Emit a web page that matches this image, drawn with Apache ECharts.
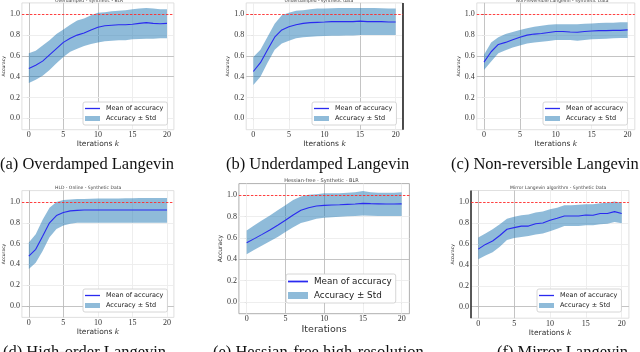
<!DOCTYPE html>
<html><head><meta charset="utf-8">
<script src="https://cdn.jsdelivr.net/npm/echarts@6/dist/echarts.min.js"></script>
<style>html,body{margin:0;padding:0;background:#fff}#c{width:640px;height:352px}</style>
</head><body><div id="c"></div>
<script>
// ---------- data ----------
const iterations = [0,1,2,3,4,5,6,7,8,9,10,11,12,13,14,15,16,17,18,19,20];
const xTickValues = [0,5,10,15,20];
const yTickValues = [0,0.2,0.4,0.6,0.8,1.0];
const targetAccuracy = 1.0;

const meanA  = [0.48,0.51,0.55,0.61,0.67,0.73,0.77,0.80,0.82,0.85,0.875,0.89,0.895,0.90,0.90,0.905,0.913,0.92,0.913,0.91,0.913];
const upperA = [0.625,0.65,0.70,0.75,0.81,0.855,0.90,0.94,0.96,0.99,1.015,1.02,1.03,1.035,1.04,1.05,1.055,1.06,1.055,1.05,1.05];
const lowerA = [0.34,0.37,0.41,0.465,0.53,0.59,0.64,0.67,0.695,0.715,0.73,0.74,0.745,0.75,0.75,0.76,0.763,0.766,0.766,0.77,0.77];

const meanB  = [0.45,0.535,0.66,0.78,0.85,0.88,0.90,0.913,0.92,0.923,0.926,0.93,0.93,0.93,0.93,0.935,0.93,0.93,0.93,0.926,0.926];
const upperB = [0.59,0.66,0.785,0.91,0.99,1.015,1.035,1.04,1.05,1.055,1.055,1.058,1.06,1.06,1.06,1.06,1.06,1.06,1.058,1.055,1.055];
const lowerB = [0.32,0.40,0.535,0.66,0.72,0.745,0.77,0.78,0.785,0.79,0.792,0.795,0.795,0.797,0.797,0.80,0.80,0.80,0.80,0.80,0.80];

const meanC  = [0.54,0.64,0.71,0.73,0.755,0.78,0.80,0.81,0.815,0.825,0.835,0.835,0.83,0.827,0.835,0.84,0.843,0.843,0.846,0.846,0.85];
const upperC = [0.61,0.73,0.78,0.81,0.83,0.85,0.865,0.88,0.89,0.90,0.905,0.905,0.905,0.905,0.91,0.913,0.916,0.92,0.92,0.923,0.923];
const lowerC = [0.465,0.545,0.625,0.655,0.68,0.70,0.72,0.73,0.737,0.743,0.753,0.753,0.753,0.747,0.753,0.76,0.763,0.766,0.77,0.773,0.773];

const meanD  = [0.48,0.545,0.67,0.80,0.87,0.90,0.915,0.92,0.923,0.923,0.923,0.923,0.923,0.923,0.923,0.923,0.923,0.923,0.923,0.923,0.923];
const upperD = [0.61,0.69,0.83,0.945,1.0,1.02,1.025,1.03,1.03,1.032,1.033,1.034,1.035,1.035,1.036,1.037,1.038,1.039,1.04,1.04,1.038];
const lowerD = [0.355,0.415,0.53,0.66,0.74,0.775,0.79,0.80,0.80,0.80,0.80,0.80,0.80,0.80,0.80,0.80,0.80,0.80,0.80,0.80,0.80];

const meanE  = [0.556,0.594,0.634,0.675,0.72,0.766,0.816,0.86,0.884,0.90,0.906,0.91,0.912,0.915,0.918,0.925,0.922,0.92,0.918,0.918,0.92];
const upperE = [0.67,0.72,0.766,0.81,0.86,0.906,0.956,0.99,1.006,1.01,1.02,1.02,1.02,1.025,1.03,1.04,1.03,1.025,1.025,1.025,1.03];
const lowerE = [0.447,0.49,0.53,0.57,0.61,0.656,0.70,0.74,0.76,0.78,0.79,0.795,0.80,0.803,0.806,0.81,0.808,0.806,0.806,0.806,0.806];

const meanF  = [0.55,0.595,0.627,0.68,0.74,0.755,0.77,0.77,0.793,0.80,0.825,0.845,0.866,0.866,0.866,0.876,0.873,0.89,0.89,0.908,0.89];
const upperF = [0.66,0.70,0.74,0.787,0.84,0.86,0.873,0.88,0.90,0.91,0.93,0.946,0.968,0.97,0.975,0.978,0.978,0.987,0.994,1.006,0.994];
const lowerF = [0.452,0.49,0.52,0.573,0.637,0.656,0.666,0.675,0.69,0.70,0.72,0.745,0.77,0.77,0.77,0.777,0.777,0.787,0.793,0.81,0.796];

const panelTitles = ['Overdamped - Synthetic - BLR','Underdamped - synthetic data','Non-reversible Langevin - Synthetic Data',
  'HLD - Online - Synthetic Data','Hessian-free - Synthetic - BLR','Mirror Langevin algorithm - Synthetic Data'];
const captions = ['(a) Overdamped Langevin','(b) Underdamped Langevin','(c) Non-reversible Langevin',
  '(d) High-order Langevin','(e) Hessian-free high-resolution','(f) Mirror Langevin'];
const xNames = ['Iterations {k|k}','Iterations {k|k}','Iterations {k|k}','Iterations {k|k}','Iterations','Iterations {k|k}'];
const yName = 'Accuracy';
const meanName = 'Mean of accuracy';
const bandName = 'Accuracy \u00b1 Std';

const panelData = [
  {mean: meanA, upper: upperA, lower: lowerA},
  {mean: meanB, upper: upperB, lower: lowerB},
  {mean: meanC, upper: upperC, lower: lowerC},
  {mean: meanD, upper: upperD, lower: lowerD},
  {mean: meanE, upper: upperE, lower: lowerE},
  {mean: meanF, upper: upperF, lower: lowerF}
];

// ---------- layout / style ----------
const layouts = [
  {left:16.1, top:2.9, width:157.8, height:126.8, border:'#d8d8d8', darkX:[0,5,10], darkY:[0.4,0.6], lg:{left:83, top:102}, fs:6.5, ifs:7.5, ygap:11, yfs:4.5, tfs:4.5},
  {left:246.2, top:2.9, width:156.6, height:126.8, border:'#d8d8d8', darkX:[15], darkY:[0.4,0.6], spineR:true, lg:{left:312, top:102}, fs:6.5, ifs:7.5, ygap:11, yfs:4.5, tfs:4.5},
  {left:476.8, top:2.9, width:158, height:126.8, border:'#d8d8d8', darkX:[0,5], darkY:[0.4,0.6], lg:{left:543, top:102}, fs:6.5, ifs:7.5, ygap:11, yfs:4.5, tfs:4.5},
  {left:16.1, top:190.6, width:157.8, height:126.8, border:'#d8d8d8', darkX:[0,5], darkY:[0], lg:{left:83, top:289}, fs:6.5, ifs:7.5, ygap:11, yfs:4.5, tfs:4.5},
  {left:238.9, top:183.6, width:170.5, height:130.1, border:'#9a9a9a', darkX:[5,10], darkY:[0.4], lg:{left:286, top:274}, fs:8.8, ifs:9.5, ygap:13, yfs:6, tfs:5},
  {left:471.1, top:190.5, width:157.8, height:127.7, border:'#d8d8d8', darkX:[0,5], darkY:[0], spineL:true, lg:{left:537, top:289}, fs:6.5, ifs:7.5, ygap:11, yfs:4.5, tfs:4.5}
];
const captionPos = [{x:0,y:156},{x:226,y:156},{x:451,y:156},{x:3,y:344},{x:213,y:344},{x:497,y:344}];

const BAND = 'rgba(31,119,180,0.5)';
const BAND_SOLID = '#8fbbd9';
const LINE = '#2a2af0';
const GRID_FAINT = '#ececec';
const GRID_DARK = '#bdbdbd';
const LINE_ICON = 'path://M0,0H40V3.5H0Z';

const grids = [], xAxes = [], yAxes = [], series = [], legends = [], graphics = [];

panelData.forEach((p, i) => {
  const L = layouts[i];
  grids.push({left:L.left, top:L.top, width:L.width, height:L.height, show:true, borderColor:L.border, borderWidth:0.8, backgroundColor:'#fff'});
  xAxes.push({
    type:'value', gridIndex:i, min:-1, max:21,
    axisLine:{show:false},
    axisTick:{show:true, length:2, customValues:xTickValues, lineStyle:{color:'#444', width:0.6}},
    axisLabel:{customValues:xTickValues, margin:1.5, fontFamily:'Liberation Serif', fontSize:8, color:'#333'},
    splitLine:{show:false},
    name:xNames[i], nameLocation:'middle', nameGap: i===4 ? 10 : 8,
    nameTextStyle:{fontFamily:'DejaVu Sans', fontSize:L.ifs, color:'#333', rich:{k:{fontFamily:'DejaVu Sans', fontStyle:'italic', fontSize:L.ifs, color:'#333'}}}
  });
  yAxes.push({
    type:'value', gridIndex:i, min:-0.11, max:1.11,
    axisLine:{show:false},
    axisTick:{show:true, length:2, customValues:yTickValues, lineStyle:{color:'#444', width:0.6}},
    axisLabel:{customValues:yTickValues, margin:2, fontFamily:'Liberation Serif', fontSize:8, color:'#333', formatter:v=>v.toFixed(1)},
    splitLine:{show:false},
    name:yName, nameLocation:'middle', nameGap:L.ygap, nameRotate:90,
    nameTextStyle:{fontFamily:'DejaVu Sans', fontSize:L.yfs, color:'#333'}
  });
  const gridLines = [];
  xTickValues.forEach(v => gridLines.push({xAxis:v, lineStyle:{color: L.darkX.includes(v)?GRID_DARK:GRID_FAINT, width:0.9, type:'solid'}}));
  yTickValues.forEach(v => { if (v !== targetAccuracy) gridLines.push({yAxis:v, lineStyle:{color: L.darkY.includes(v)?GRID_DARK:GRID_FAINT, width:0.9, type:'solid'}}); });
  if (L.spineR) gridLines.push({xAxis:21, lineStyle:{color:'#222', width:1.6, type:'solid'}});
  if (L.spineL) gridLines.push({xAxis:-1, lineStyle:{color:'#333', width:1.6, type:'solid'}});

  series.push({
    type:'custom', xAxisIndex:i, yAxisIndex:i, name:bandName,
    data: iterations.map((x, k) => [x, p.lower[k], p.upper[k]]),
    encode:{x:0, y:[1,2]},
    itemStyle:{color:BAND_SOLID}, animation:false, silent:true, clip:true, z:2,
    renderItem: (params, api) => {
      if (params.dataIndex !== 0) return null;
      const pts = [];
      for (let k = 0; k < iterations.length; k++) pts.push(api.coord([iterations[k], p.upper[k]]));
      for (let k = iterations.length - 1; k >= 0; k--) pts.push(api.coord([iterations[k], p.lower[k]]));
      return {type:'polygon', shape:{points:pts}, style:{fill:BAND, stroke:null}};
    },
    markLine:{silent:true, z:1, symbol:['none','none'], label:{show:false}, animation:false, data:gridLines}
  });
  series.push({
    type:'line', xAxisIndex:i, yAxisIndex:i, name:meanName, symbol:'none', showSymbol:false,
    data: iterations.map((x, k) => [x, p.mean[k]]),
    lineStyle:{color:LINE, width:1.1}, itemStyle:{color:LINE}, animation:false, z:3,
    markLine:{silent:true, z:3, symbol:['none','none'], label:{show:false}, animation:false,
      data:[{yAxis:targetAccuracy, lineStyle:{color:'#ff2a2a', width:0.9, type:[2.5,1.5]}}]}
  });
  legends.push({
    z:10, left:L.lg.left, top:L.lg.top, orient:'vertical', selectedMode:false, symbolKeepAspect:true,
    itemWidth: i===4 ? 20 : 15, itemHeight: i===4 ? 7 : 5, itemGap: i===4 ? 5 : 3,
    padding:[3,4,3,2], backgroundColor:'#ffffff', borderColor:'#cccccc', borderWidth:0.8, borderRadius:2,
    itemStyle:{borderWidth:0}, lineStyle:{width:0, opacity:0},
    textStyle:{fontFamily:'DejaVu Sans', fontSize:L.fs, color:'#222', padding:[0,0,0,1]},
    data:[{name:meanName, icon:LINE_ICON, itemStyle:{color:LINE, borderWidth:0}}, {name:bandName, icon:'rect', itemStyle:{color:BAND_SOLID, borderWidth:0}}]
  });
  graphics.push({type:'text', left: L.left + L.width/2 - 40, top: L.top - L.tfs - 0.5,
    style:{text:panelTitles[i], font:`${L.tfs}px "DejaVu Sans"`, fill:'#444', width:80, align:'center'}, silent:true});
  graphics.push({type:'text', x:captionPos[i].x, y:captionPos[i].y,
    style:{text:captions[i], font:'16.5px "Liberation Serif"', fill:'#111', verticalAlign:'top'}, silent:true});
});

const chart = echarts.init(document.getElementById('c'), null, {renderer:'canvas'});
chart.setOption({
  animation:false,
  grid:grids, xAxis:xAxes, yAxis:yAxes, series:series, legend:legends, graphic:graphics
});
</script>
</body></html>
